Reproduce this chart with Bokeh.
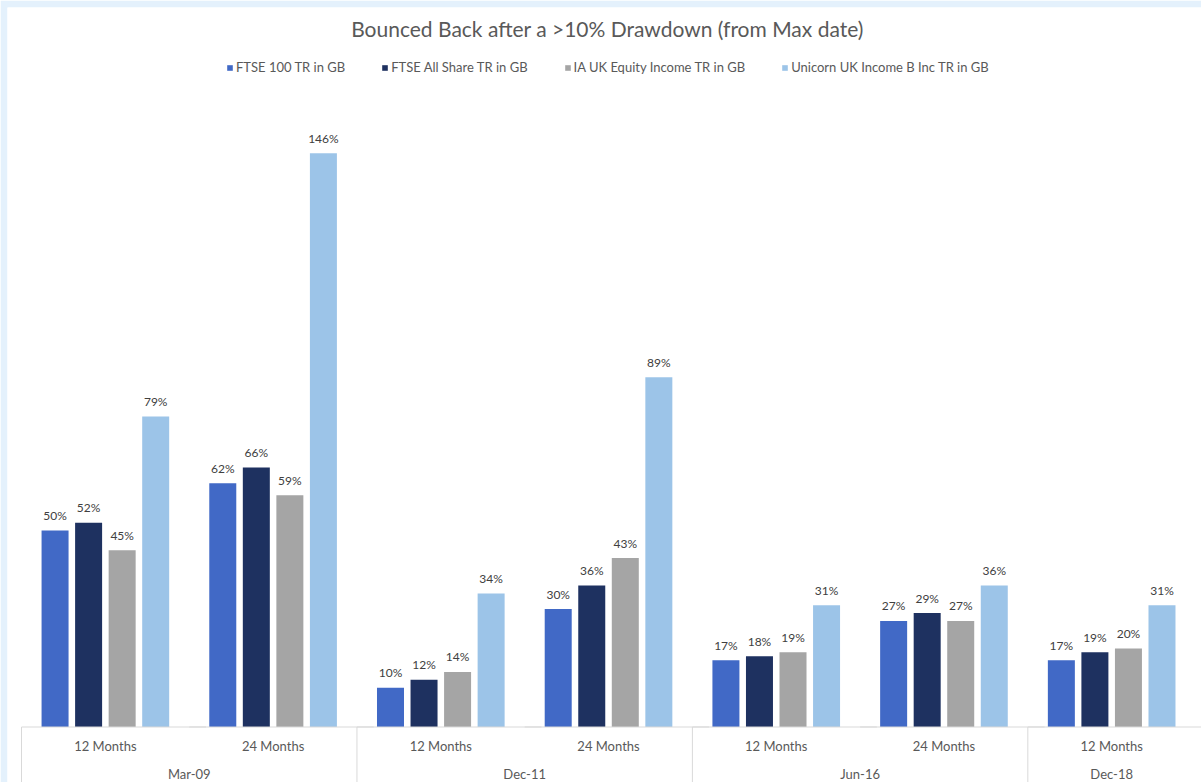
from bokeh.plotting import figure
from bokeh.models import ColumnDataSource, FactorRange, Range1d, Legend, LegendItem, Label
from bokeh.transform import dodge
from bokeh.core.properties import value
from bokeh.embed import file_html
from bokeh.resources import INLINE

# ---------------- data ----------------
title_text = "Bounced Back after a >10% Drawdown (from Max date)"
dates = ["Mar-09", "Mar-09", "Dec-11", "Dec-11", "Jun-16", "Jun-16", "Dec-18"]
periods = ["12 Months", "24 Months", "12 Months", "24 Months", "12 Months", "24 Months", "12 Months"]
series_names = ["FTSE 100 TR in GB", "FTSE All Share TR in GB",
                "IA UK Equity Income TR in GB", "Unicorn UK Income B Inc TR in GB"]
ftse100 = [50, 62, 10, 30, 17, 27, 17]
ftse_all_share = [52, 66, 12, 36, 18, 29, 19]
ia_uk_equity_income = [45, 59, 14, 43, 19, 27, 20]
unicorn_uk_income = [79, 146, 34, 89, 31, 36, 31]
series_values = [ftse100, ftse_all_share, ia_uk_equity_income, unicorn_uk_income]

# ---------------- style ----------------
series_colors = ["#4169c6", "#1e3160", "#a5a5a5", "#9cc4e8"]
shift = 0.024
offsets = [-0.3, -0.1, 0.1, 0.3]
bar_width = 0.161
FONT = "Lato"
TXT = "#595959"
px_per_unit = 3.93
base_px = 726.5
W, H = 1201, 782
top_border = 7

factors = list(zip(dates, periods))
date_groups = list(dict.fromkeys(dates))
first_of_group = [next(f for f in factors if f[0] == d) for d in date_groups]

x_range = FactorRange(*factors, group_padding=0, factor_padding=0,
                      range_padding=0.0596, range_padding_units="absolute")
y_range = Range1d(-(H - base_px) / px_per_unit, (base_px - top_border) / px_per_unit)

p = figure(width=W, height=H, x_range=x_range, y_range=y_range,
           x_axis_location=None, y_axis_location=None,
           toolbar_location=None, output_backend="svg",
           min_border_left=7, min_border_top=top_border,
           min_border_right=0, min_border_bottom=0)
p.outline_line_color = None
p.border_fill_color = "#e4f1fc"
p.background_fill_color = "white"
p.grid.visible = False


def dx(col, off):
    return dodge(col, off + shift, range=p.x_range)


items = []
for name, vals, color, off in zip(series_names, series_values, series_colors, offsets):
    src = ColumnDataSource(dict(x=factors, y=vals, label=[f"{v}%" for v in vals]))
    r = p.vbar(x=dx("x", off), top="y", width=bar_width,
               source=src, fill_color=color, line_color=None)
    p.text(x=dx("x", off), y="y", text="label", source=src,
           text_align="center", text_baseline="middle", y_offset=-15,
           text_font=value(FONT), text_font_size="12px", text_color="#404040")
    items.append(LegendItem(label=name, renderers=[r]))

# axis line and group separators
p.segment(x0=dx("x", -0.5), y0=0, x1=dx("x", 0.6), y1=0,
          source=ColumnDataSource(dict(x=factors)), line_color="#d9d9d9", line_width=1)
p.segment(x0=dx("x", -0.5), y0=0, x1=dx("x", -0.5), y1=y_range.start,
          source=ColumnDataSource(dict(x=first_of_group)), line_color="#d9d9d9", line_width=1)

# category labels
p.text(x=dx("x", 0), y=0, text="t", source=ColumnDataSource(dict(x=factors, t=periods)),
       text_align="center", text_baseline="middle", y_offset=19,
       text_font=value(FONT), text_font_size="13px", text_color=TXT)
p.text(x=dx("x", 0), y=0, text="t", source=ColumnDataSource(dict(x=date_groups, t=date_groups)),
       text_align="center", text_baseline="middle", y_offset=47,
       text_font=value(FONT), text_font_size="13px", text_color=TXT)

legend = Legend(items=items, orientation="horizontal", location=(219, 707),
                glyph_width=7, glyph_height=7, label_standoff=3, spacing=36,
                padding=0, margin=0, border_line_color=None, background_fill_alpha=0,
                label_text_font=FONT, label_text_font_size="13px",
                label_text_color=TXT, label_height=14)
p.add_layout(legend)

p.add_layout(Label(x=600, y=H - 28, x_units="screen", y_units="screen",
                   text=title_text, text_align="center", text_baseline="middle",
                   text_font=FONT, text_font_size="21px", text_color=TXT))

open("out.html", "w").write(file_html(p, INLINE))
